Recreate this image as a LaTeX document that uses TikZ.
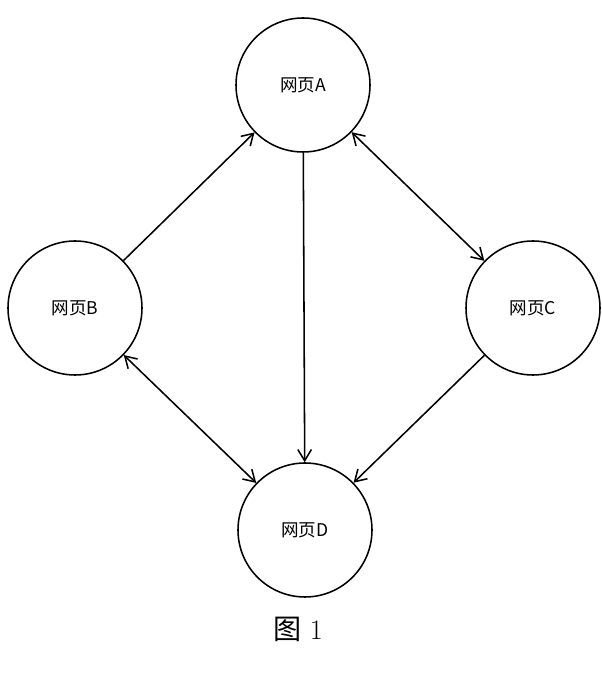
\documentclass[tikz,border=0pt]{standalone}
\usepackage{fontspec}
\newfontfamily\cjk{Noto Sans CJK SC}
\usepackage{tikz}
\usetikzlibrary{positioning,arrows.meta}

\begin{document}
\begin{tikzpicture}[
    page/.style={circle,draw=black,line width=1.1pt,minimum size=3.35cm,
                 inner sep=0pt,font=\cjk\fontsize{12.5}{14}\selectfont},
    link/.style={line width=1.1pt,-{Straight Barb[length=2.8mm,width=3.4mm]}},
    both/.style={link,{Straight Barb[length=2.8mm,width=3.4mm]}-{Straight Barb[length=2.8mm,width=3.4mm]}},
  ]
    \useasboundingbox (0,0) rectangle (15.025,16.825);

    % the four pages
    \node[page] (pa) at ( 7.575,14.700) {网页A};
    \node[page] (pb) at ( 1.875, 9.125) {网页B};
    \node[page] (pc) at (13.325, 9.125) {网页C};
    \node[page] (pd) at ( 7.625, 3.575) {网页D};

    % links between pages
    \draw[link] (pb) -- (pa);
    \draw[both] (pa) -- (pc);
    \draw[link] (pa) -- (pd);
    \draw[both] (pb) -- (pd);
    \draw[link] (pc) -- (pd);

    % caption
    \node[font=\fontsize{20}{24}\selectfont] (cap) at (7.45,1.1) {{\cjk 图} 1};
\end{tikzpicture}
\end{document}
